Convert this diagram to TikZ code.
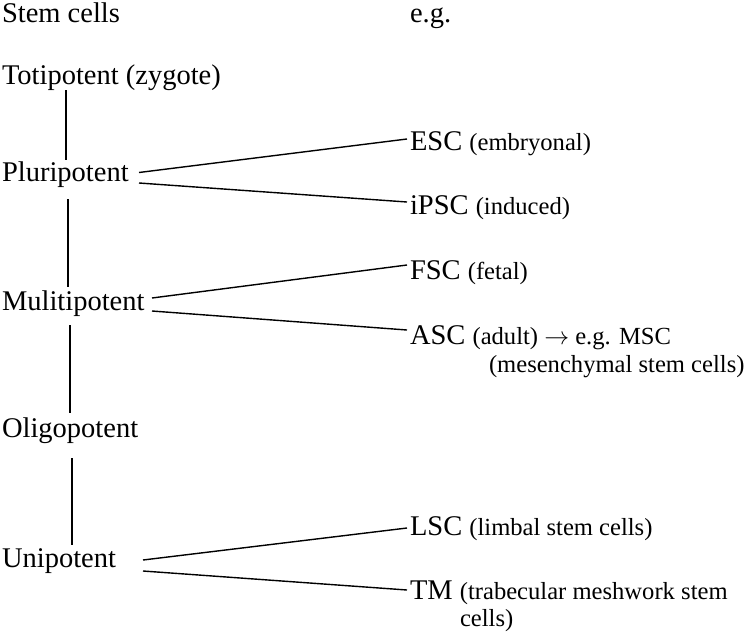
\documentclass[tikz,border=0pt]{standalone}
\usepackage{fontspec}
\setmainfont{Liberation Serif}
\newcommand\mainsz{\fontsize{28.5}{30}\selectfont}
\newcommand\smsz{\fontsize{24.6}{28}\selectfont}
\begin{document}
\begin{tikzpicture}[x=1pt,y=-1pt,
  lbl/.style={anchor=base west,inner sep=0pt,outer sep=0pt,font=\mainsz,text=black},
  conn/.style={draw=black,line width=1.4pt}]
\useasboundingbox (0,0) rectangle (750,633);
% left column
\node[lbl] (title) at (2,22) {Stem cells};
\node[lbl] (eg) at (410,22) {e.g.};
\node[lbl] (toti) at (2,84) {Totipotent (zygote)};
\node[lbl] (pluri) at (2,181) {Pluripotent};
\node[lbl] (multi) at (2,310) {Mulitipotent};
\node[lbl] (oligo) at (2,437) {Oligopotent};
\node[lbl] (uni) at (2,567) {Unipotent};
% right column
\node[lbl] (esc) at (410,150.5) {ESC {\smsz(embryonal)}};
\node[lbl] (ipsc) at (410,214) {iPSC {\smsz(induced)}};
\node[lbl] (fsc) at (410,279) {FSC {\smsz(fetal)}};
\node[lbl] (asc) at (410,344) {ASC {\smsz(adult) $\rightarrow$ e.g. MSC}};
\node[lbl,font=\smsz] (mesc) at (489,372) {(mesenchymal stem cells)};
\node[lbl] (lsc) at (410,535) {LSC {\smsz(limbal stem cells)}};
\node[lbl] (tm) at (410,599) {TM {\smsz(trabecular meshwork stem}};
\node[lbl,font=\smsz] (tmcells) at (460,626) {cells)};
% vertical connectors
\draw[conn] ([shift={(64,6)}]toti.base west) -- ([shift={(64,-21)}]pluri.base west);
\draw[conn] ([shift={(66,18)}]pluri.base west) -- ([shift={(66,-23)}]multi.base west);
\draw[conn] ([shift={(68,15)}]multi.base west) -- ([shift={(68,-24)}]oligo.base west);
\draw[conn] ([shift={(70,21)}]oligo.base west) -- ([shift={(70,-22)}]uni.base west);
% fan-out connectors
\draw[conn] ([shift={(137,-8.5)}]pluri.base west) -- ([shift={(-3,-11.5)}]esc.base west);
\draw[conn] ([shift={(137,2)}]pluri.base west) -- ([shift={(-3,-12)}]ipsc.base west);
\draw[conn] ([shift={(150,-12)}]multi.base west) -- ([shift={(-3,-14)}]fsc.base west);
\draw[conn] ([shift={(150,1)}]multi.base west) -- ([shift={(-3,-14)}]asc.base west);
\draw[conn] ([shift={(141,-7)}]uni.base west) -- ([shift={(-3,-7)}]lsc.base west);
\draw[conn] ([shift={(141,4)}]uni.base west) -- ([shift={(-3,-9)}]tm.base west);
\end{tikzpicture}
\end{document}
